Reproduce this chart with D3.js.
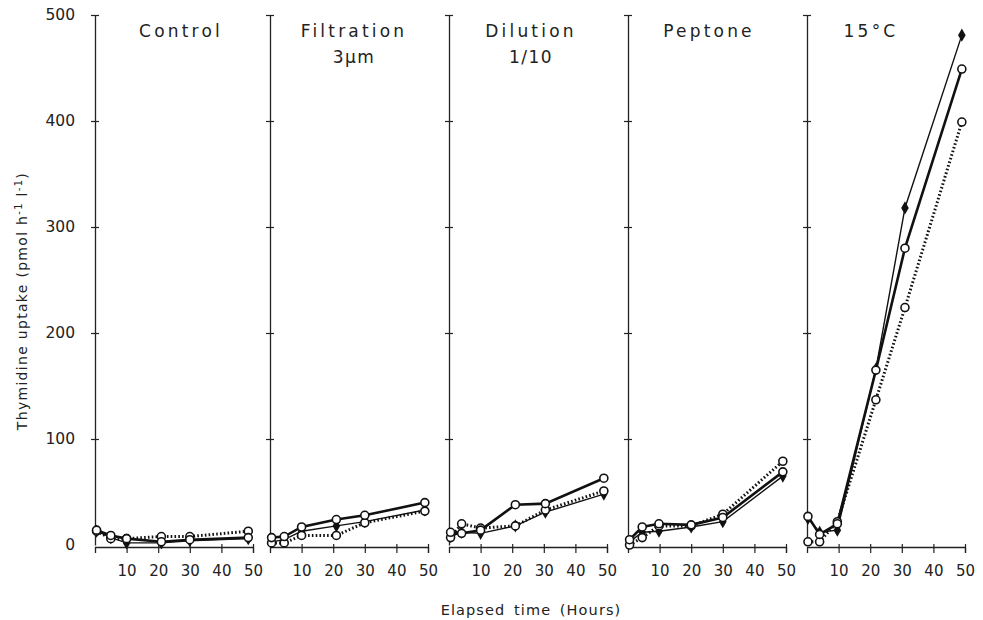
<!DOCTYPE html>
<html>
<head>
<meta charset="utf-8">
<script src="https://cdn.jsdelivr.net/npm/d3@7"></script>
<style>
  body { margin: 0; background: #fff; }
  svg text { font-family: "DejaVu Sans", sans-serif; fill: #222; }
</style>
</head>
<body>
<svg id="chart" width="983" height="620"></svg>
<script>
// panel titles (second line after "|")
const panels = ["Control", "Filtration|3μm", "Dilution|1/10", "Peptone", "15°C"];

// sampling times (hours) per panel
const times = [
    [0.5, 5, 10, 21, 30, 48.5],
    [0.5, 4.5, 10, 21, 30, 49],
    [0.5, 4, 10, 21, 30.5, 49],
    [0.5, 4.5, 9.8, 20, 30, 49],
    [0.3, 4, 9.6, 21.8, 31, 49]
];

// thymidine uptake, three series per panel
const filledSeries = [
    [13, 7, 2, 2, 4, 6],
    [3, 5, 13, 18, 22, 33],
    [8, 12, 11, 18, 31, 48],
    [3, 12, 13, 17, 22, 65],
    [25, 12, 14, 166, 318, 481]
];
const openSeries = [
    [14, 9, 6, 3, 5, 7],
    [7, 8, 17, 24, 28, 40],
    [12, 11, 14, 38, 39, 63],
    [5, 17, 20, 19, 26, 69],
    [27, 10, 20, 165, 280, 449]
];
const dottedSeries = [
    [13, 6, 6, 8, 8, 13],
    [2, 2, 9, 9, 21, 32],
    [7, 20, 16, 18, 33, 51],
    [0, 7, 18, 18, 29, 79],
    [3, 3, 22, 137, 224, 399]
];

const yTicks = [0, 100, 200, 300, 400, 500];
const xTicks = [10, 20, 30, 40, 50];

// layout
const panelLeft = [95, 270, 449, 628, 807];
const titleShift = [86, 84, 82, 81, 64];
const panelW = 158;

const svg = d3.select("#chart");

const y = d3.scaleLinear().domain([0, 500]).range([545, 15]);

panels.forEach((name, i) => {
    const x0 = panelLeft[i];
    const x = d3.scaleLinear().domain([0, 50]).range([x0, x0 + panelW]);
    const g = svg.append("g");

    // y axis
    const yAxis = d3.axisLeft(y)
        .tickValues(yTicks)
        .tickSizeOuter(0)
        .tickPadding(14)
        .tickFormat(i === 0 ? d3.format("d") : () => "");
    const ya = g.append("g")
        .attr("transform", `translate(${x0},0)`)
        .call(yAxis);
    ya.select(".domain").attr("stroke", "#222").attr("stroke-width", 1.3);
    ya.selectAll(".tick line")
        .attr("x1", d => d === 0 ? 0 : -4)
        .attr("x2", d => d === 0 ? 0 : 4)
        .attr("stroke", "#222").attr("stroke-width", 1.2);
    ya.selectAll(".tick text")
        .style("font-size", "15.5px")
        .style("font-family", "DejaVu Sans, sans-serif")
        .attr("fill", "#222");

    // x axis
    const xAxis = d3.axisBottom(x)
        .tickValues(xTicks)
        .tickSizeOuter(0)
        .tickSize(6)
        .tickPadding(12);
    const xa = g.append("g")
        .attr("transform", "translate(0,547)")
        .call(xAxis);
    xa.select(".domain").attr("stroke", "#222").attr("stroke-width", 1.3);
    xa.selectAll(".tick line")
        .attr("y1", -3)
        .attr("stroke", "#222").attr("stroke-width", 1.2);
    xa.selectAll(".tick text")
        .style("font-size", "15px")
        .style("font-family", "DejaVu Sans, sans-serif")
        .attr("fill", "#222");

    // title
    const lines = name.split("|");
    lines.forEach((t, k) => {
        g.append("text")
            .attr("x", x0 + titleShift[i])
            .attr("y", 37 + k * 26)
            .attr("text-anchor", "middle")
            .style("font-size", "17px")
            .style("letter-spacing", k === 0 ? "3.2px" : "1.4px")
            .text(t);
    });

    const pts = (vals) => vals.map((v, k) => [times[i][k], v]);
    const line = d3.line().x(d => x(d[0])).y(d => y(d[1]));

    // dotted series
    g.append("path")
        .datum(pts(dottedSeries[i]))
        .attr("d", line)
        .attr("fill", "none")
        .attr("stroke", "#111")
        .attr("stroke-width", 3)
        .attr("stroke-dasharray", "1.6,2.2");

    // filled-diamond series (thin line)
    g.append("path")
        .datum(pts(filledSeries[i]))
        .attr("d", line)
        .attr("fill", "none")
        .attr("stroke", "#111")
        .attr("stroke-width", 1.4);

    // open series (thick line)
    g.append("path")
        .datum(pts(openSeries[i]))
        .attr("d", line)
        .attr("fill", "none")
        .attr("stroke", "#111")
        .attr("stroke-width", 2.6);

    g.selectAll(".dia")
        .data(pts(filledSeries[i]))
        .enter()
        .append("path")
        .attr("d", d3.symbol(d3.symbolDiamond, 50))
        .attr("transform", d => `translate(${x(d[0])},${y(d[1])})`)
        .attr("fill", "#111");

    g.selectAll(".dot")
        .data(pts(dottedSeries[i]).concat(pts(openSeries[i])))
        .enter()
        .append("circle")
        .attr("cx", d => x(d[0]))
        .attr("cy", d => y(d[1]))
        .attr("r", 4)
        .attr("fill", "#fff")
        .attr("stroke", "#111")
        .attr("stroke-width", 1.6);
});

// axis titles
const yLabel = svg.append("text")
    .attr("transform", "translate(27,301) rotate(-90)")
    .attr("text-anchor", "middle")
    .style("font-size", "14px")
    .style("letter-spacing", "1.3px");
yLabel.append("tspan").text("Thymidine  uptake  (pmol  h");
yLabel.append("tspan").attr("dy", -5).style("font-size", "10px").text("-1");
yLabel.append("tspan").attr("dy", 5).text("  l");
yLabel.append("tspan").attr("dy", -5).style("font-size", "10px").text("-1");
yLabel.append("tspan").attr("dy", 5).text(")");

svg.append("text")
    .attr("x", 531)
    .attr("y", 615)
    .attr("text-anchor", "middle")
    .style("font-size", "14.5px")
    .style("letter-spacing", "1.1px")
    .style("word-spacing", "3px")
    .text("Elapsed time (Hours)");
</script>
</body>
</html>
